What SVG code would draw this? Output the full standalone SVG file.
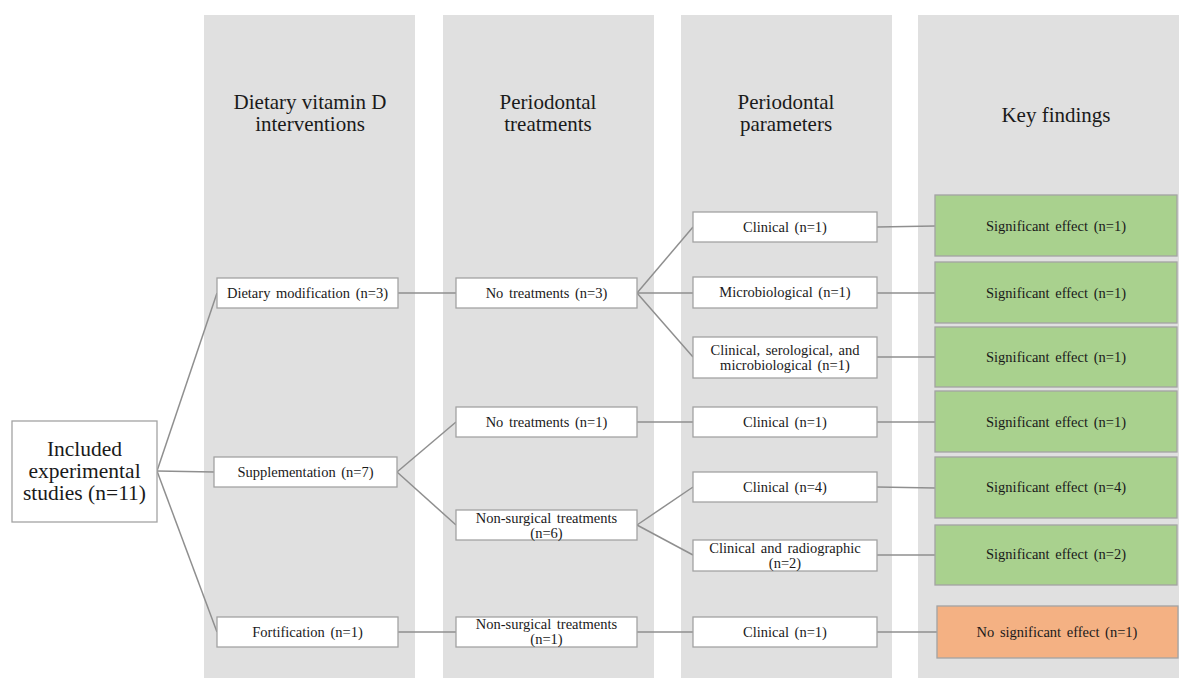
<svg xmlns="http://www.w3.org/2000/svg" width="1179" height="678" viewBox="0 0 1179 678">
<style>
.col{fill:#e0e0e0}
.hdr{font-family:'Liberation Serif',Tinos,'Times New Roman','DejaVu Serif',serif;font-size:21px;fill:#1a1a1a;text-anchor:middle}
.box{fill:#ffffff;stroke:#a3a3a3;stroke-width:1.3}
.green{fill:#a9d18e;stroke:#a3a3a3;stroke-width:1.3}
.orange{fill:#f4b183;stroke:#a3a3a3;stroke-width:1.3}
.t{font-family:'Liberation Serif',Tinos,'Times New Roman','DejaVu Serif',serif;font-size:14.5px;fill:#1a1a1a;text-anchor:middle;word-spacing:2px}
.big{font-family:'Liberation Serif',Tinos,'Times New Roman','DejaVu Serif',serif;font-size:21.5px;fill:#1a1a1a;text-anchor:middle}
.conn line{stroke:#8f8f8f;stroke-width:1.5;fill:none}
</style>
<rect width="1179" height="678" fill="#ffffff"/>
<g id="columns">
<rect class="col" x="204" y="15" width="211" height="663"/>
<rect class="col" x="443" y="15" width="211" height="663"/>
<rect class="col" x="681" y="15" width="211" height="663"/>
<rect class="col" x="918" y="15" width="261" height="663"/>
</g>
<g id="headers">
<text class="hdr" x="310" y="109">Dietary vitamin D</text>
<text class="hdr" x="310" y="131">interventions</text>
<text class="hdr" x="548" y="109">Periodontal</text>
<text class="hdr" x="548" y="131">treatments</text>
<text class="hdr" x="786" y="109">Periodontal</text>
<text class="hdr" x="786" y="131">parameters</text>
<text class="hdr" x="1056" y="122">Key findings</text>
</g>
<g class="conn" id="connectors">
<line x1="157" y1="471" x2="217" y2="293"/>
<line x1="157" y1="471" x2="214" y2="472"/>
<line x1="157" y1="471" x2="217" y2="632"/>
<line x1="398" y1="293" x2="456" y2="293"/>
<line x1="397" y1="472" x2="456" y2="422"/>
<line x1="397" y1="472" x2="456" y2="525"/>
<line x1="398" y1="632" x2="456" y2="632"/>
<line x1="637" y1="293" x2="693" y2="227"/>
<line x1="637" y1="293" x2="693" y2="293"/>
<line x1="637" y1="293" x2="693" y2="357"/>
<line x1="637" y1="422" x2="693" y2="422"/>
<line x1="637" y1="525" x2="693" y2="487"/>
<line x1="637" y1="525" x2="693" y2="555"/>
<line x1="637" y1="632" x2="693" y2="632"/>
<line x1="877" y1="227" x2="935" y2="226"/>
<line x1="877" y1="293" x2="935" y2="293"/>
<line x1="877" y1="357" x2="935" y2="357"/>
<line x1="877" y1="422" x2="935" y2="422"/>
<line x1="877" y1="487" x2="935" y2="488"/>
<line x1="877" y1="555" x2="935" y2="555"/>
<line x1="877" y1="632" x2="937" y2="632"/>
</g>
<g id="n-included">
<rect class="box" x="12" y="421" width="145" height="101"/>
<text class="big" x="84.5" y="456">Included</text>
<text class="big" x="84.5" y="478">experimental</text>
<text class="big" x="84.5" y="500">studies (n=11)</text>
</g>
<g id="n-dietmod"><rect class="box" x="217" y="278" width="181" height="30"/><text class="t" x="307.5" y="297.5">Dietary modification (n=3)</text></g>
<g id="n-supp"><rect class="box" x="214" y="457" width="183" height="30"/><text class="t" x="305.5" y="476.5">Supplementation (n=7)</text></g>
<g id="n-fort"><rect class="box" x="217" y="617" width="181" height="30"/><text class="t" x="307.5" y="636.5">Fortification (n=1)</text></g>
<g id="n-nt3"><rect class="box" x="456" y="278" width="181" height="30"/><text class="t" x="546.5" y="297.5">No treatments (n=3)</text></g>
<g id="n-nt1"><rect class="box" x="456" y="407" width="181" height="30"/><text class="t" x="546.5" y="426.5">No treatments (n=1)</text></g>
<g id="n-ns6"><rect class="box" x="456" y="510" width="181" height="30"/><text class="t" x="546.5" y="522.5">Non-surgical treatments</text><text class="t" x="546.5" y="537.5">(n=6)</text></g>
<g id="n-ns1"><rect class="box" x="456" y="617" width="181" height="30"/><text class="t" x="546.5" y="629">Non-surgical treatments</text><text class="t" x="546.5" y="644">(n=1)</text></g>
<g id="n-c1a"><rect class="box" x="693" y="212" width="184" height="30"/><text class="t" x="785" y="231.5">Clinical (n=1)</text></g>
<g id="n-micro"><rect class="box" x="693" y="277" width="184" height="31"/><text class="t" x="785" y="297">Microbiological (n=1)</text></g>
<g id="n-css"><rect class="box" x="693" y="337" width="184" height="41"/><text class="t" x="785" y="354.5">Clinical, serological, and</text><text class="t" x="785" y="369.5">microbiological (n=1)</text></g>
<g id="n-c1b"><rect class="box" x="693" y="407" width="184" height="30"/><text class="t" x="785" y="426.5">Clinical (n=1)</text></g>
<g id="n-c4"><rect class="box" x="693" y="472" width="184" height="30"/><text class="t" x="785" y="491.5">Clinical (n=4)</text></g>
<g id="n-crad"><rect class="box" x="693" y="540" width="184" height="31"/><text class="t" x="785" y="552.5">Clinical and radiographic</text><text class="t" x="785" y="567.5">(n=2)</text></g>
<g id="n-c1c"><rect class="box" x="693" y="617" width="184" height="30"/><text class="t" x="785" y="636.5">Clinical (n=1)</text></g>
<g id="n-g1"><rect class="green" x="935" y="195" width="242" height="61"/><text class="t" x="1056" y="230.5">Significant effect (n=1)</text></g>
<g id="n-g2"><rect class="green" x="935" y="262" width="242" height="61"/><text class="t" x="1056" y="297.5">Significant effect (n=1)</text></g>
<g id="n-g3"><rect class="green" x="935" y="327" width="242" height="60"/><text class="t" x="1056" y="361.5">Significant effect (n=1)</text></g>
<g id="n-g4"><rect class="green" x="935" y="391" width="242" height="61"/><text class="t" x="1056" y="426.5">Significant effect (n=1)</text></g>
<g id="n-g5"><rect class="green" x="935" y="457" width="242" height="61"/><text class="t" x="1056" y="492">Significant effect (n=4)</text></g>
<g id="n-g6"><rect class="green" x="935" y="525" width="242" height="60"/><text class="t" x="1056" y="559">Significant effect (n=2)</text></g>
<g id="n-orange"><rect class="orange" x="937" y="606" width="241" height="52"/><text class="t" x="1057" y="636.5">No significant effect (n=1)</text></g>
</svg>
